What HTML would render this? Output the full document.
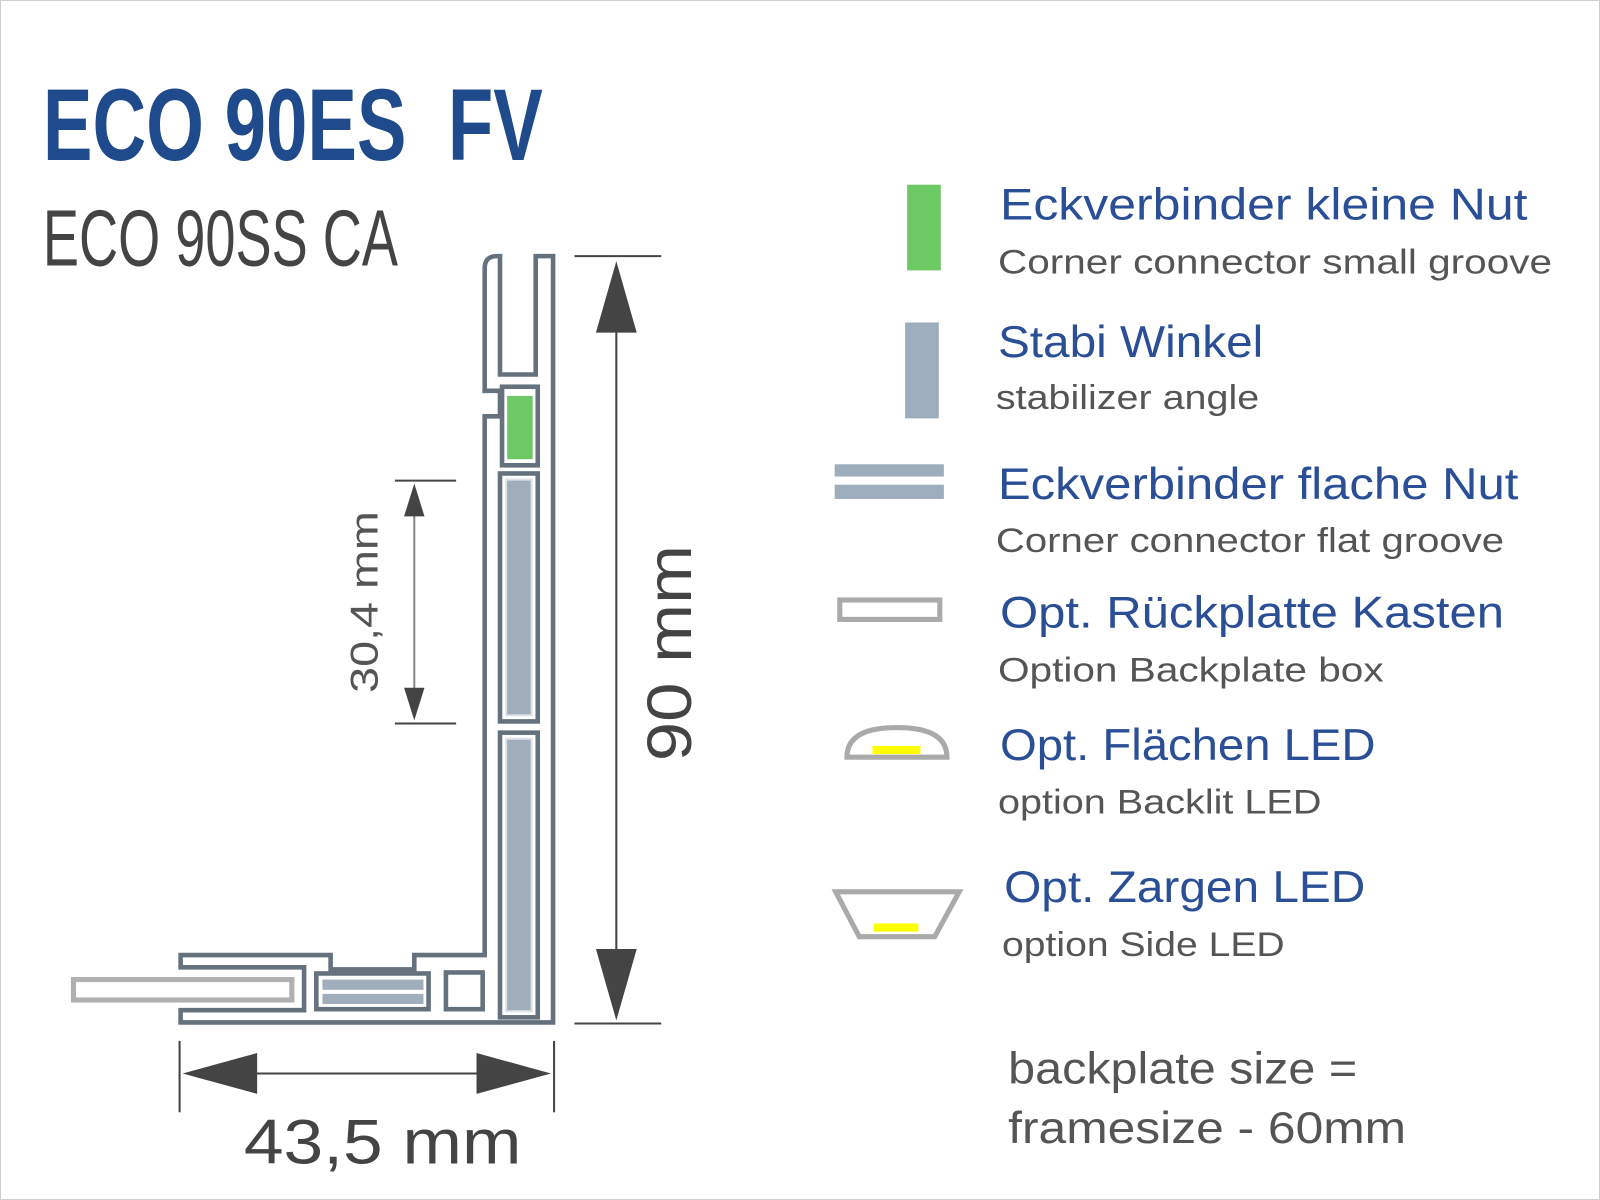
<!DOCTYPE html>
<html><head><meta charset="utf-8"><style>
html,body{margin:0;padding:0;background:#fff;}
svg{display:block;}
text{font-family:"Liberation Sans",sans-serif;}
</style></head><body>
<svg width="1600" height="1200" viewBox="0 0 1568 1176" preserveAspectRatio="none" xmlns="http://www.w3.org/2000/svg">
<rect x="0.5" y="0.5" width="1567" height="1175" fill="#fff" stroke="#cfcfcf"/>
<text x="42" y="157" font-size="100" font-weight="bold" fill="#1f4a8c" textLength="490" lengthAdjust="spacingAndGlyphs">ECO 90ES&#160;&#160;FV</text>
<text x="42" y="260" font-size="78" fill="#444" textLength="348" lengthAdjust="spacingAndGlyphs">ECO 90SS CA</text>

<!-- profile -->
<g stroke="#66717e" stroke-width="4.5" stroke-linejoin="miter">
<path fill="#fff" d="M487 251 H490 V367 H525 V251 H542 V1002 H177 V990 H298 V948 H177 V936 H324 V950 H406 V936 H475 V408 H490 V383 H475 V263 Q475 251 487 251 Z"/>
<rect x="492" y="379" width="35" height="77" fill="#fff"/>
<rect x="490" y="464" width="37" height="243" fill="#fff"/>
<rect x="490" y="718" width="37" height="279" fill="#fff"/>
<rect x="310" y="954" width="110" height="35" fill="#fff"/>
<rect x="437" y="953" width="36" height="36" fill="#fff"/>
</g>
<rect x="497" y="388" width="25" height="62" fill="#6cc964"/>
<rect x="496" y="470" width="25" height="231" fill="#a0aebc" stroke="#dde3e8" stroke-width="2"/>
<rect x="496" y="724" width="25" height="267" fill="#a0aebc" stroke="#dde3e8" stroke-width="2"/>
<rect x="316" y="960" width="99" height="10" fill="#a0aebc"/>
<rect x="316" y="974" width="99" height="10" fill="#a0aebc"/>
<rect x="72" y="960" width="214" height="20" stroke="#b0b0b0" stroke-width="5" fill="#fff"/>

<!-- dimensions -->
<g stroke="#444" stroke-width="2">
<line x1="563" y1="251" x2="648" y2="251"/>
<line x1="563" y1="1003" x2="648" y2="1003"/>
<line x1="604" y1="300" x2="604" y2="960"/>
<line x1="387" y1="471" x2="447" y2="471"/>
<line x1="387" y1="709" x2="447" y2="709"/>
<line x1="406" y1="490" x2="406" y2="690" stroke="#888"/>
<line x1="176" y1="1020" x2="176" y2="1090"/>
<line x1="543" y1="1020" x2="543" y2="1090"/>
<line x1="230" y1="1052" x2="490" y2="1052"/>
</g>
<g fill="#444">
<polygon points="604,256 584,326 624,326"/>
<polygon points="604,1000 584,930 624,930"/>
<polygon points="406,474 396,506 416,506"/>
<polygon points="406,706 396,674 416,674"/>
<polygon points="179,1052 252,1032 252,1072"/>
<polygon points="540,1052 467,1032 467,1072"/>
</g>
<text transform="translate(677,640) rotate(-90)" text-anchor="middle" font-size="62" fill="#444" textLength="212" lengthAdjust="spacingAndGlyphs">90 mm</text>
<text transform="translate(370,590) rotate(-90)" text-anchor="middle" font-size="38" fill="#555" textLength="178" lengthAdjust="spacingAndGlyphs">30,4 mm</text>
<text x="375" y="1140" text-anchor="middle" font-size="62" fill="#444" textLength="272" lengthAdjust="spacingAndGlyphs">43,5 mm</text>

<!-- legend icons -->
<rect x="889" y="181" width="33" height="84" fill="#6cc964"/>
<rect x="887" y="316" width="33" height="94" fill="#9eadbc"/>
<rect x="818" y="455" width="107" height="12" fill="#9eadbc"/>
<rect x="818" y="475" width="107" height="14" fill="#9eadbc"/>
<rect x="823" y="588" width="98" height="19" fill="none" stroke="#aaa" stroke-width="5"/>
<path d="M830 742 Q830 713 879 713 Q928 713 928 742 Z" fill="none" stroke="#aaa" stroke-width="5"/>
<rect x="855" y="731" width="47" height="8" fill="#ffff00"/>
<path d="M819 874 H940 L916 918 H842 Z" fill="none" stroke="#aaa" stroke-width="5"/>
<rect x="856" y="905" width="44" height="8" fill="#ffff00"/>

<!-- legend text -->
<g fill="#2a4f96" font-size="44">
<text x="980" y="215" textLength="517" lengthAdjust="spacingAndGlyphs">Eckverbinder kleine Nut</text>
<text x="978" y="350" textLength="260" lengthAdjust="spacingAndGlyphs">Stabi Winkel</text>
<text x="978" y="489" textLength="510" lengthAdjust="spacingAndGlyphs">Eckverbinder flache Nut</text>
<text x="980" y="615" textLength="494" lengthAdjust="spacingAndGlyphs">Opt. Rückplatte Kasten</text>
<text x="980" y="745" textLength="368" lengthAdjust="spacingAndGlyphs">Opt. Flächen LED</text>
<text x="984" y="884" textLength="354" lengthAdjust="spacingAndGlyphs">Opt. Zargen LED</text>
</g>
<g fill="#555" font-size="34">
<text x="978" y="268" textLength="543" lengthAdjust="spacingAndGlyphs">Corner connector small groove</text>
<text x="976" y="401" textLength="258" lengthAdjust="spacingAndGlyphs">stabilizer angle</text>
<text x="976" y="541" textLength="498" lengthAdjust="spacingAndGlyphs">Corner connector flat groove</text>
<text x="978" y="668" textLength="378" lengthAdjust="spacingAndGlyphs">Option Backplate box</text>
<text x="978" y="797" textLength="317" lengthAdjust="spacingAndGlyphs">option Backlit LED</text>
<text x="982" y="937" textLength="277" lengthAdjust="spacingAndGlyphs">option Side LED</text>
</g>
<g fill="#555" font-size="44">
<text x="988" y="1062" textLength="342" lengthAdjust="spacingAndGlyphs">backplate size =</text>
<text x="988" y="1120" textLength="390" lengthAdjust="spacingAndGlyphs">framesize - 60mm</text>
</g>
</svg>
</body></html>
